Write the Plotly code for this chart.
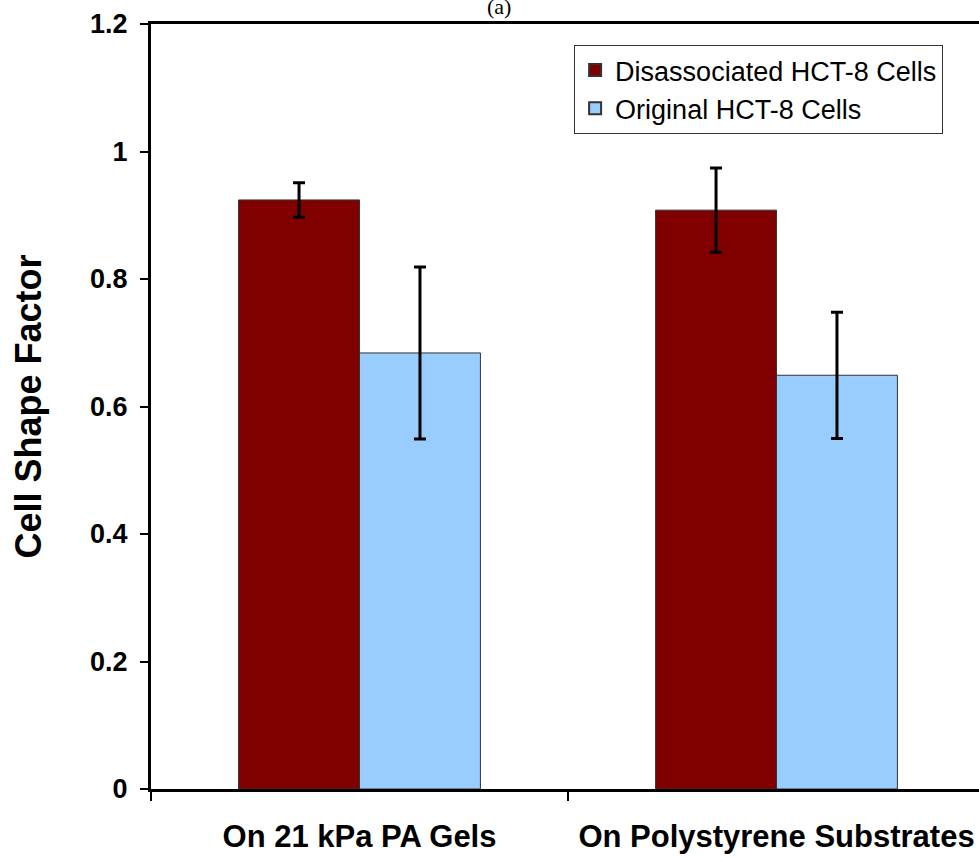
import plotly.graph_objects as go

categories = ["On 21 kPa PA Gels", "On Polystyrene Substrates"]
series_names = ["Disassociated HCT-8 Cells", "Original HCT-8 Cells"]
disassociated = [0.924, 0.908]
disassociated_err = [0.027, 0.066]
original = [0.684, 0.649]
original_err = [0.135, 0.099]
y_ticks = [0, 0.2, 0.4, 0.6, 0.8, 1, 1.2]
y_tick_labels = ["0", "0.2", "0.4", "0.6", "0.8", "1", "1.2"]

FONT = "Liberation Sans, Arial, sans-serif"

fig = go.Figure()
fig.add_trace(go.Bar(
    x=categories, y=disassociated, name=series_names[0],
    marker=dict(color="#800000", line=dict(color="#333333", width=1)),
    error_y=dict(type="data", array=disassociated_err, color="black", thickness=3, width=6),
))
fig.add_trace(go.Bar(
    x=categories, y=original, name=series_names[1],
    marker=dict(color="#99CCFF", line=dict(color="#333333", width=1)),
    error_y=dict(type="data", array=original_err, color="black", thickness=3, width=6),
))

fig.update_layout(
    width=979, height=857,
    margin=dict(l=151, r=0, t=24, b=68),
    paper_bgcolor="white", plot_bgcolor="white",
    barmode="group", bargap=0.42, bargroupgap=0,
    font=dict(family=FONT, color="black"),
    showlegend=True,
    legend=dict(
        x=0.511, y=0.9725, xanchor="left", yanchor="top",
        bordercolor="#333333", borderwidth=1, bgcolor="white",
        font=dict(family=FONT, size=27, color="black"),
        itemsizing="constant", tracegroupgap=0,
    ),
    xaxis=dict(
        type="category", range=[-0.5, 1.4856],
        showline=True, linecolor="black", linewidth=3, mirror=True,
        ticks="outside", tickson="boundaries", ticklen=9, tickwidth=2, tickcolor="black",
        tickfont=dict(family=FONT, size=31, color="black", weight="bold"),
        ticklabelstandoff=18,
        showgrid=False, zeroline=False,
    ),
    yaxis=dict(
        range=[0, 1.2], tickvals=y_ticks, ticktext=y_tick_labels,
        showline=True, linecolor="black", linewidth=3,
        ticks="outside", ticklen=8, tickwidth=2, tickcolor="black",
        tickfont=dict(family=FONT, size=27, color="black", weight="bold"),
        ticklabelstandoff=7,
        showgrid=False, zeroline=False,
        title=dict(text="Cell Shape Factor", standoff=38,
                   font=dict(family=FONT, size=36, color="black", weight="bold")),
    ),
)

fig.add_annotation(text="(a)", xref="paper", yref="paper", x=0.42, y=1.0,
                   yshift=3, xanchor="center", yanchor="bottom", showarrow=False,
                   font=dict(family="Liberation Serif, Times New Roman, serif", size=22, color="black"))

fig.write_html("out.html", config={"displayModeBar": False},
               post_script="document.body.style.margin='0';")
